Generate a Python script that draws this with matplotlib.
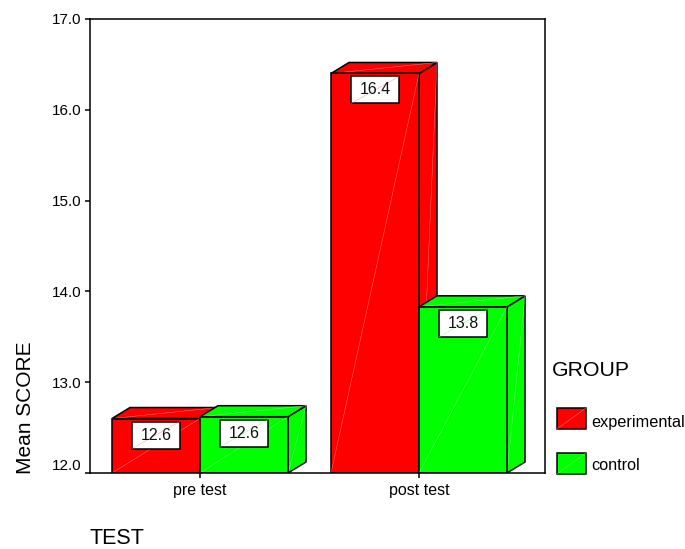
#!/usr/bin/python3

import matplotlib
matplotlib.use('Agg')
import matplotlib.pyplot as plt
from matplotlib.patches import Rectangle

plt.rcParams['font.family'] = ['Liberation Sans', 'DejaVu Sans']

tests = ['pre test', 'post test']
groups = ['experimental', 'control']
experimental = [12.6, 16.4]
control = [12.62, 13.83]
exp_labels = ['12.6', '16.4']
con_labels = ['12.6', '13.8']
yticks = [12, 13, 14, 15, 16, 17]
colores = {'experimental': '#ff0000', 'control': '#00ff00'}
claros = {'experimental': '#ff8a8a', 'control': '#80ff80'}

W, H = 685, 549
fig = plt.figure(figsize=(W/100, H/100), dpi=100)
ax = fig.add_axes([90/W, 1-473/H, 455/W, 454/H])
ax.set_ylim(12, 17)
ax.set_xlim(-110/219, 345/219)

ancho = 88/219
dx = 18/219
dy = 11/90.8
px_x = 1/219
px_y = 1/90.8


def barra(x0, valor, grupo, texto):
    x1 = x0+ancho
    c = colores[grupo]
    l = claros[grupo]
    # caras: lateral, superior, frontal
    ax.fill([x1, x1+dx, x1+dx, x1], [12, 12+dy, valor+dy, valor], fc=c, ec='k', lw=1.1, zorder=3)
    ax.fill([x0, x0+dx, x1+dx, x1], [valor, valor+dy, valor+dy, valor], fc=c, ec='k', lw=1.1, zorder=3)
    ax.plot([x1, x1+dx], [12, valor+dy], color=l, lw=0.3, zorder=3)
    ax.plot([x0, x1+dx], [valor, valor+dy], color=l, lw=0.3, zorder=3)
    ax.fill([x0, x1, x1, x0], [12, 12, valor, valor], fc=c, ec='k', lw=1.1, zorder=4)
    ax.plot([x0, x1], [12, valor], color=l, lw=0.3, zorder=4)
    # caja con el valor
    xc = x0+ancho/2
    cw = 48*px_x
    ch = 27*px_y
    top = valor-3*px_y
    ax.add_patch(Rectangle((xc-cw/2, top-ch), cw, ch, fc='white', ec='k', lw=1.1, zorder=5))
    ax.plot([xc-cw/2, xc+cw/2], [top-ch, top], color=l, lw=0.3, zorder=5)
    ax.text(xc, top-ch/2, texto, ha='center', va='center', fontsize=11.5, color='#111111', zorder=6)


for i in range(len(tests)):
    barra(i-ancho, experimental[i], 'experimental', exp_labels[i])
    barra(i, control[i], 'control', con_labels[i])

ax.set_xticks(range(len(tests)))
ax.set_xticklabels(tests, fontsize=11.5)
ax.set_yticks(yticks)
ax.set_yticklabels(['%.1f' % v for v in yticks], fontsize=11)
ax.get_yticklabels()[0].set_va('bottom')
ax.tick_params(axis='y', length=3.5, width=1.1, pad=2.5)
ax.tick_params(axis='x', length=3.5, width=1.1, pad=4)
for s in ax.spines.values():
    s.set_linewidth(1.1)
    s.set_zorder(7)

fig.text(26/W, 1-474/H, 'Mean SCORE', rotation=90, ha='center', va='bottom', fontsize=15)
fig.text(90/W, 1-544/H, 'TEST', ha='left', va='baseline', fontsize=15.5)
fig.text(552/W, 1-371/H, 'GROUP', ha='left', va='center', fontsize=15.3)

# leyenda
for g, y0, y1, yt in zip(groups, [408, 453], [429, 474], [422, 465]):
    fig.add_artist(Rectangle((557/W, 1-y1/H), 29/W, (y1-y0)/H, transform=fig.transFigure,
                             fc=colores[g], ec='k', lw=1.1))
    fig.add_artist(plt.Line2D([557/W, 586/W], [1-y1/H, 1-y0/H], color=claros[g], lw=0.3))
    fig.text(591/W, 1-yt/H, g, ha='left', va='center', fontsize=11.7)

fig.savefig('out.png', dpi=100)
